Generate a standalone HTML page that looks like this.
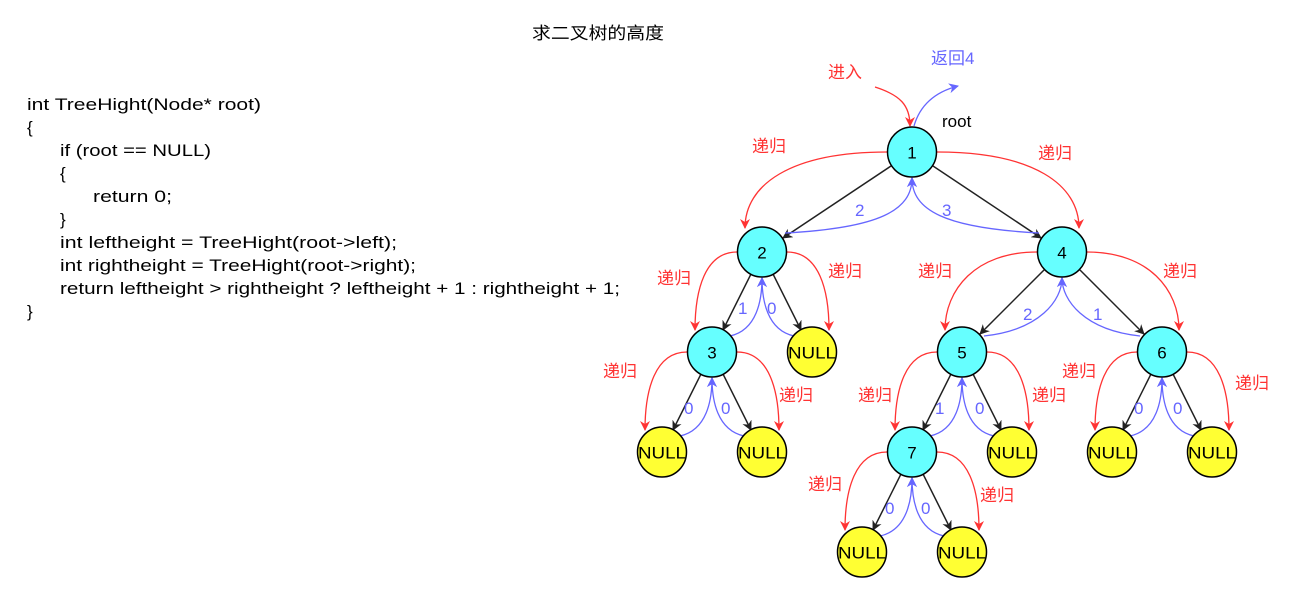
<!DOCTYPE html>
<html><head><meta charset="utf-8"><style>
body{margin:0;background:#fff;width:1311px;height:605px;overflow:hidden;}
svg{position:absolute;left:0;top:0}
.code{font-family:"Liberation Sans","Noto Sans CJK SC",sans-serif;font-size:17px;fill:#000}
.r{font-family:"Liberation Sans","Noto Sans CJK SC",sans-serif;font-size:17px;fill:#f33}
.b{font-family:"Liberation Sans",sans-serif;font-size:17px;fill:#66f}
.n{font-family:"Liberation Sans",sans-serif;font-size:17px;fill:#000;text-anchor:middle;dominant-baseline:central}
.k{stroke:#222;stroke-width:1.5;fill:none}
.rd{stroke:#f33;stroke-width:1.3;fill:none}
.bl{stroke:#66f;stroke-width:1.3;fill:none}
</style></head><body>
<svg width="1311" height="605" xmlns="http://www.w3.org/2000/svg">
<defs>
<marker id="ak" markerWidth="10" markerHeight="10" refX="9" refY="5" orient="auto" markerUnits="userSpaceOnUse"><path d="M0,0 L10,5 L0,10 L3,5z" fill="#222"/></marker>
<marker id="ar" markerWidth="10" markerHeight="10" refX="9" refY="5" orient="auto" markerUnits="userSpaceOnUse"><path d="M0,0 L10,5 L0,10 L3,5z" fill="#f33"/></marker>
<marker id="ab" markerWidth="10" markerHeight="10" refX="9" refY="5" orient="auto" markerUnits="userSpaceOnUse"><path d="M0,0 L10,5 L0,10 L3,5z" fill="#66f"/></marker>
</defs>
<text x="532" y="39" class="code" textLength="132" lengthAdjust="spacingAndGlyphs">求二叉树的高度</text>
<g class="code">
<text x="27" y="110" textLength="234" lengthAdjust="spacingAndGlyphs">int TreeHight(Node* root)</text>
<text x="27" y="133">{</text>
<text x="60" y="156" textLength="151" lengthAdjust="spacingAndGlyphs">if (root == NULL)</text>
<text x="60" y="179">{</text>
<text x="93" y="202" textLength="79" lengthAdjust="spacingAndGlyphs">return 0;</text>
<text x="60" y="225">}</text>
<text x="60" y="248" textLength="337" lengthAdjust="spacingAndGlyphs">int leftheight = TreeHight(root-&gt;left);</text>
<text x="60" y="271" textLength="356" lengthAdjust="spacingAndGlyphs">int rightheight = TreeHight(root-&gt;right);</text>
<text x="60" y="294" textLength="560" lengthAdjust="spacingAndGlyphs">return leftheight &gt; rightheight ? leftheight + 1 : rightheight + 1;</text>
<text x="27" y="317">}</text>
</g>
<!-- top -->
<text x="828" y="78" class="r">进入</text>
<path class="rd" marker-end="url(#ar)" d="M875,87 C900,95 910,105 910,126"/>
<text x="931" y="64" class="b" style="font-size:17px">返回4</text>
<path class="bl" marker-end="url(#ab)" d="M914,126 C920,105 935,92 958,86"/>
<text x="942" y="127" class="code">root</text>
<!-- black -->
<g class="k" marker-end="url(#ak)">
<path d="M891,166 L783,238"/><path d="M933,166 L1041,238"/>
<path d="M751,274 L723,330"/><path d="M773,274 L801,330"/>
<path d="M701,374 L673,430"/><path d="M723,374 L751,430"/>
<path d="M1044,270 L980,334"/><path d="M1080,270 L1144,334"/>
<path d="M951,374 L923,430"/><path d="M973,374 L1001,430"/>
<path d="M1151,374 L1123,430"/><path d="M1173,374 L1201,430"/>
<path d="M901,474 L873,530"/><path d="M923,474 L951,530"/>
</g>
<!-- red -->
<g class="rd" marker-end="url(#ar)">
<path d="M887,152 C790,152 745,185 745,228"/>
<path d="M937,152 C1034,152 1079,185 1079,228"/>
<path d="M737,252 C705,252 695,290 695,330"/>
<path d="M787,252 C819,252 829,290 829,330"/>
<path d="M687,352 C655,352 645,390 645,430"/>
<path d="M737,352 C769,352 779,390 779,430"/>
<path d="M1037,252 C975,252 945,290 945,330"/>
<path d="M1087,252 C1149,252 1179,290 1179,330"/>
<path d="M937,352 C905,352 895,390 895,430"/>
<path d="M987,352 C1019,352 1029,390 1029,430"/>
<path d="M1137,352 C1105,352 1095,390 1095,430"/>
<path d="M1187,352 C1219,352 1229,390 1229,430"/>
<path d="M887,452 C855,452 845,490 845,530"/>
<path d="M937,452 C969,452 979,490 979,530"/>
</g>
<!-- blue -->
<g class="bl" marker-end="url(#ab)">
<path d="M785,233 C880,228 912,210 912,178"/>
<path d="M1039,233 C944,228 912,210 912,178"/>
<path d="M730,336 C757,330 762,300 762,278"/>
<path d="M794,336 C767,330 762,300 762,278"/>
<path d="M680,436 C707,430 712,400 712,378"/>
<path d="M744,436 C717,430 712,400 712,378"/>
<path d="M984,336 C1040,330 1062,300 1062,278"/>
<path d="M1140,336 C1084,330 1062,300 1062,278"/>
<path d="M930,436 C957,430 962,400 962,378"/>
<path d="M994,436 C967,430 962,400 962,378"/>
<path d="M1130,436 C1157,430 1162,400 1162,378"/>
<path d="M1194,436 C1167,430 1162,400 1162,378"/>
<path d="M880,536 C907,530 912,500 912,478"/>
<path d="M944,536 C917,530 912,500 912,478"/>
</g>
<!-- red labels -->
<g class="r">
<text x="752" y="152">递归</text><text x="1038" y="159">递归</text>
<text x="657" y="284">递归</text><text x="828" y="277">递归</text>
<text x="918" y="277">递归</text><text x="1163" y="277">递归</text>
<text x="603" y="377">递归</text><text x="779" y="401">递归</text>
<text x="858" y="401">递归</text><text x="1032" y="401">递归</text>
<text x="1062" y="377">递归</text><text x="1235" y="389">递归</text>
<text x="808" y="490">递归</text><text x="980" y="501">递归</text>
</g>
<!-- blue labels -->
<g class="b">
<text x="855" y="216">2</text><text x="942" y="216">3</text>
<text x="738" y="314">1</text><text x="767" y="314">0</text>
<text x="1023" y="320">2</text><text x="1093" y="320">1</text>
<text x="684" y="414">0</text><text x="721" y="414">0</text>
<text x="935" y="414">1</text><text x="975" y="414">0</text>
<text x="1134" y="414">0</text><text x="1173" y="414">0</text>
<text x="885" y="514">0</text><text x="921" y="514">0</text>
</g>
<!-- nodes -->
<g stroke="#000" stroke-width="1.5">
<ellipse cx="912" cy="152" rx="24.5" ry="25" fill="#66ffff"/>
<ellipse cx="762" cy="252" rx="24.5" ry="25" fill="#66ffff"/>
<ellipse cx="1062" cy="252" rx="24.5" ry="25" fill="#66ffff"/>
<ellipse cx="712" cy="352" rx="24.5" ry="25" fill="#66ffff"/>
<ellipse cx="812" cy="352" rx="24.5" ry="25" fill="#ffff33"/>
<ellipse cx="962" cy="352" rx="24.5" ry="25" fill="#66ffff"/>
<ellipse cx="1162" cy="352" rx="24.5" ry="25" fill="#66ffff"/>
<ellipse cx="662" cy="452" rx="24.5" ry="25" fill="#ffff33"/>
<ellipse cx="762" cy="452" rx="24.5" ry="25" fill="#ffff33"/>
<ellipse cx="912" cy="452" rx="24.5" ry="25" fill="#66ffff"/>
<ellipse cx="1012" cy="452" rx="24.5" ry="25" fill="#ffff33"/>
<ellipse cx="1112" cy="452" rx="24.5" ry="25" fill="#ffff33"/>
<ellipse cx="1212" cy="452" rx="24.5" ry="25" fill="#ffff33"/>
<ellipse cx="862" cy="552" rx="24.5" ry="25" fill="#ffff33"/>
<ellipse cx="962" cy="552" rx="24.5" ry="25" fill="#ffff33"/>
</g>
<g class="n">
<text x="912" y="153">1</text><text x="762" y="253">2</text><text x="1062" y="253">4</text>
<text x="712" y="353">3</text><text x="962" y="353">5</text><text x="1162" y="353">6</text><text x="912" y="453">7</text>
<text x="812" y="353" textLength="48" lengthAdjust="spacingAndGlyphs">NULL</text>
<text x="662" y="453" textLength="48" lengthAdjust="spacingAndGlyphs">NULL</text>
<text x="762" y="453" textLength="48" lengthAdjust="spacingAndGlyphs">NULL</text>
<text x="1012" y="453" textLength="48" lengthAdjust="spacingAndGlyphs">NULL</text>
<text x="1112" y="453" textLength="48" lengthAdjust="spacingAndGlyphs">NULL</text>
<text x="1212" y="453" textLength="48" lengthAdjust="spacingAndGlyphs">NULL</text>
<text x="862" y="553" textLength="48" lengthAdjust="spacingAndGlyphs">NULL</text>
<text x="962" y="553" textLength="48" lengthAdjust="spacingAndGlyphs">NULL</text>
</g>
</svg>
</body></html>
